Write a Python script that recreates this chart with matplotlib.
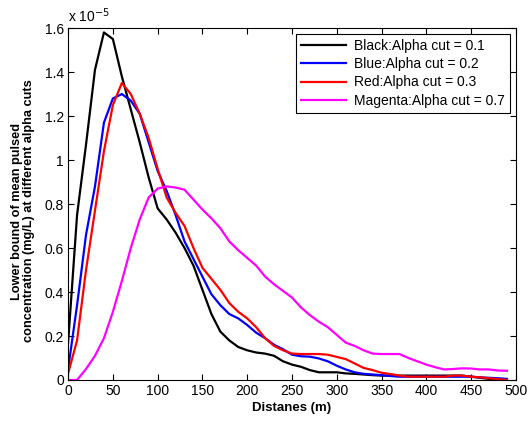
import numpy as np
import matplotlib
matplotlib.use('Agg')
import matplotlib.pyplot as plt
from matplotlib.ticker import FuncFormatter

plt.rcParams['font.family'] = ['Liberation Sans', 'DejaVu Sans']

# distance (m), concentration in units of 1e-5 mg/L
distance = list(range(0, 500, 10))

black = [0.17, 0.75, 1.07, 1.41, 1.58, 1.55, 1.38, 1.23, 1.08, 0.92,
         0.78, 0.73, 0.67, 0.60, 0.52, 0.41, 0.30, 0.22, 0.18, 0.15,
         0.135, 0.125, 0.12, 0.11, 0.085, 0.07, 0.06, 0.045, 0.035, 0.035,
         0.035, 0.03, 0.028, 0.025, 0.022, 0.02, 0.02, 0.02, 0.02, 0.02,
         0.02, 0.02, 0.02, 0.02, 0.02, 0.015, 0.01, 0.005, 0.003, 0.0]

blue = [0.05, 0.34, 0.66, 0.88, 1.17, 1.28, 1.30, 1.27, 1.21, 1.08,
        0.95, 0.86, 0.75, 0.63, 0.55, 0.47, 0.39, 0.34, 0.30, 0.28,
        0.25, 0.215, 0.19, 0.16, 0.14, 0.115, 0.108, 0.106, 0.098, 0.085,
        0.065, 0.048, 0.035, 0.028, 0.025, 0.022, 0.018, 0.015, 0.015, 0.015,
        0.015, 0.015, 0.015, 0.015, 0.015, 0.015, 0.012, 0.01, 0.008, 0.005]

red = [0.03, 0.18, 0.50, 0.77, 1.04, 1.25, 1.35, 1.30, 1.21, 1.10,
       0.96, 0.83, 0.76, 0.70, 0.60, 0.51, 0.46, 0.41, 0.35, 0.31,
       0.28, 0.24, 0.19, 0.155, 0.135, 0.12, 0.118, 0.118, 0.118, 0.115,
       0.105, 0.095, 0.075, 0.055, 0.045, 0.033, 0.027, 0.02, 0.015, 0.015,
       0.015, 0.015, 0.015, 0.02, 0.02, 0.015, 0.012, 0.008, 0.004, 0.0]

magenta = [0.0, 0.0, 0.05, 0.11, 0.19, 0.31, 0.45, 0.60, 0.73, 0.83,
           0.87, 0.88, 0.875, 0.865, 0.82, 0.775, 0.735, 0.69, 0.63, 0.59,
           0.555, 0.52, 0.47, 0.435, 0.405, 0.375, 0.33, 0.295, 0.265, 0.24,
           0.205, 0.17, 0.155, 0.135, 0.12, 0.118, 0.118, 0.118, 0.10, 0.085,
           0.07, 0.058, 0.048, 0.05, 0.053, 0.052, 0.048, 0.048, 0.043, 0.042]

labels = ['Black:Alpha cut = 0.1', 'Blue:Alpha cut = 0.2',
          'Red:Alpha cut = 0.3', 'Magenta:Alpha cut = 0.7']
colors = ['black', 'blue', 'red', 'magenta']

fig = plt.figure(figsize=(5.28, 4.21), dpi=100)
ax = fig.add_axes([0.129, 0.0974, 0.848, 0.836])

for series, c, lab in zip([black, blue, red, magenta], colors, labels):
    ax.plot(distance, np.array(series) * 1e-5, color=c, lw=1.6, label=lab)

ax.set_xlim(0, 500)
ax.set_ylim(0, 1.6e-5)
ax.set_xticks(range(0, 501, 50))
ax.set_yticks(np.arange(0, 1.61, 0.2) * 1e-5)
ax.yaxis.set_major_formatter(FuncFormatter(lambda v, p: '%g' % round(v / 1e-5, 2)))
ax.tick_params(direction='in', top=True, right=True, labelsize=10, length=4,
               width=0.8, pad=3)
for s in ax.spines.values():
    s.set_linewidth(0.8)

ax.set_xlabel('Distanes (m)', fontsize=9.5, fontweight='bold', labelpad=3)
ax.set_ylabel('Lower bound of mean pulsed\nconcentration (mg/L) at different alpha cuts',
              fontsize=9.2, fontweight='bold', linespacing=1.1)
ax.yaxis.set_label_coords(-0.073, 0.48)
ax.text(0.0, 1.01, r'x 10$^{-5}$', transform=ax.transAxes, fontsize=10,
        ha='left', va='bottom')

leg = ax.legend(loc='upper right', fontsize=10, fancybox=False, framealpha=1,
                edgecolor='black', borderaxespad=0.4, handlelength=3.2,
                labelspacing=0.3, borderpad=0.4, handletextpad=0.6)
leg.get_frame().set_linewidth(0.8)

fig.savefig('out.png', dpi=100)
